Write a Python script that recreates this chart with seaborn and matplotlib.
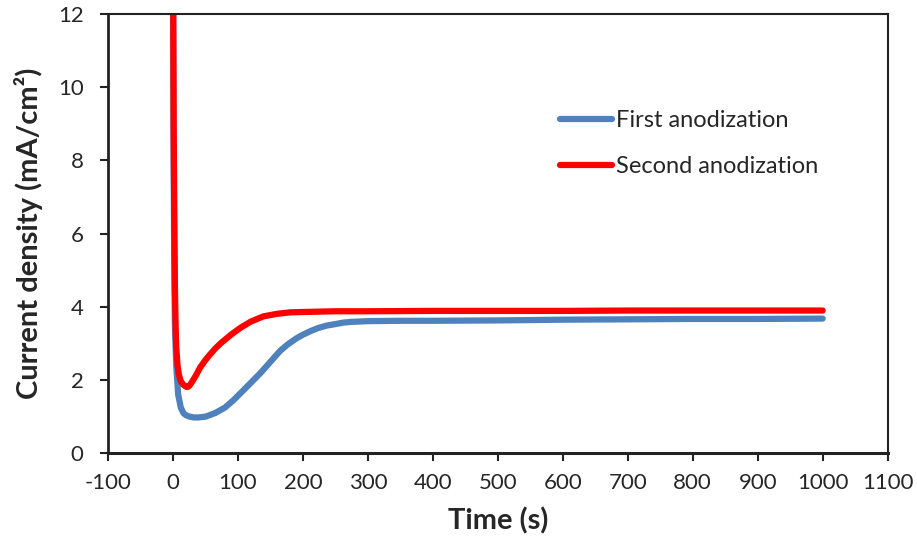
import matplotlib
matplotlib.use("Agg")
import matplotlib.pyplot as plt
import seaborn as sns
import pandas as pd

# Data
t_first = [0, 1, 2, 3, 5, 8, 12, 16, 20, 26, 32, 39, 50, 65, 80, 93, 110,
           120, 135, 155, 165, 177, 190, 200, 212, 223, 237, 250, 262, 274,
           300, 350, 400, 500, 600, 700, 800, 900, 1000]
j_first = [14, 8, 5, 3.5, 2.4, 1.6, 1.25, 1.1, 1.04, 1.0, 0.98, 0.98, 1.0,
           1.1, 1.25, 1.45, 1.75, 1.93, 2.2, 2.6, 2.8, 2.98, 3.14, 3.24,
           3.34, 3.42, 3.49, 3.53, 3.57, 3.59, 3.61, 3.62, 3.62, 3.63, 3.65,
           3.66, 3.67, 3.67, 3.68]

t_second = [0, 1, 2, 3, 4, 5, 7, 9, 12, 16, 20, 22, 25, 30, 36, 42, 50, 57,
            66, 75, 90, 104, 120, 139, 160, 180, 200, 250, 300, 400, 500,
            600, 700, 800, 900, 1000]
j_second = [14, 9, 6.5, 4.5, 3.5, 2.9, 2.4, 2.15, 1.97, 1.87, 1.82, 1.81,
            1.84, 1.97, 2.15, 2.35, 2.55, 2.7, 2.88, 3.03, 3.25, 3.43, 3.6,
            3.74, 3.81, 3.85, 3.86, 3.88, 3.88, 3.89, 3.89, 3.89, 3.9, 3.9,
            3.9, 3.9]

labels = ["First anodization", "Second anodization"]
colors = ["#4F81BD", "#FF0000"]
x_ticks = list(range(-100, 1101, 100))
y_ticks = list(range(0, 13, 2))

sns.set_style("white")
plt.rcParams["font.family"] = ["Lato", "DejaVu Sans"]

fig = plt.figure(figsize=(9.17, 5.52), dpi=100)
ax = fig.add_axes([0.1178, 0.1788, 0.8502, 0.7958])

df1 = pd.DataFrame({"t": t_first, "j": j_first})
df2 = pd.DataFrame({"t": t_second, "j": j_second})
sns.lineplot(data=df1, x="t", y="j", ax=ax, color=colors[0], lw=4.5,
             label=labels[0], sort=False, estimator=None,
             solid_capstyle="round", solid_joinstyle="round")
sns.lineplot(data=df2, x="t", y="j", ax=ax, color=colors[1], lw=4.5,
             label=labels[1], sort=False, estimator=None,
             solid_capstyle="round", solid_joinstyle="round")

ax.set_xlim(-100, 1100)
ax.set_ylim(0, 12)
ax.set_xticks(x_ticks)
ax.set_yticks(y_ticks)
ax.set_xticklabels([str(v) for v in x_ticks])
ax.set_yticklabels([str(v) for v in y_ticks])
ax.tick_params(axis="both", direction="out", length=5.5, width=1.5,
               color="#222222", labelsize=16, bottom=True, left=True)
ax.tick_params(axis="x", pad=9)
ax.tick_params(axis="y", pad=12)
for s in ax.spines.values():
    s.set_visible(True)
    s.set_color("#222222")
    s.set_linewidth(1.5)
ax.spines["bottom"].set_linewidth(2.2)
ax.spines["left"].set_linewidth(2.0)

ax.set_xlabel("Time (s)", fontsize=21, fontweight="bold", labelpad=10)
ax.set_ylabel("Current density (mA/cm²)", fontsize=21, fontweight="bold",
              labelpad=11)

leg = ax.legend(loc="upper left", bbox_to_anchor=(0.5795, 0.782),
                frameon=False, fontsize=17, handlelength=2.2,
                handletextpad=0.2, labelspacing=1.08, borderpad=0,
                borderaxespad=0)

fig.savefig("out.png", dpi=100)
